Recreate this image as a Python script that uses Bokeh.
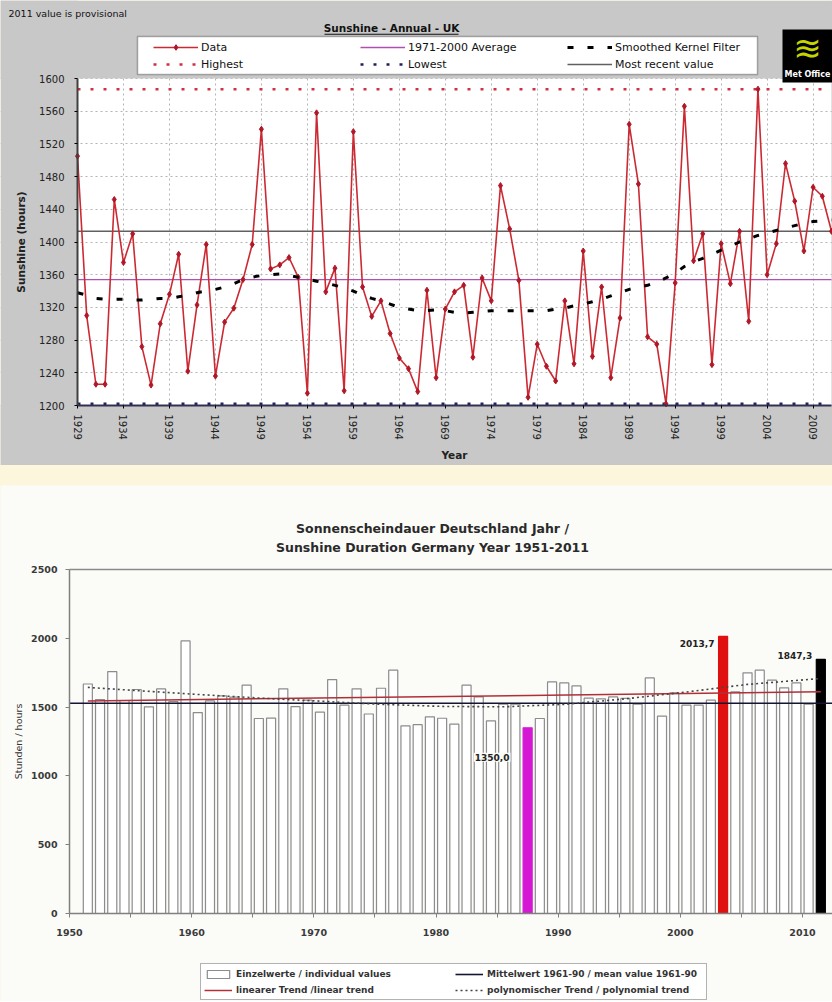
import math
from bokeh.plotting import figure
from bokeh.models import (Range1d, FixedTicker, Label, Legend, LegendItem,
                          ColumnDataSource, BoxAnnotation)
from bokeh.layouts import column
from bokeh.embed import file_html
from bokeh.resources import INLINE

# ---------------- UK data ----------------
uk_years = list(range(1929, 2012))
uk_sunshine = [1505, 1310, 1226, 1226, 1452, 1375, 1410, 1272, 1225, 1300,
               1336, 1385, 1242, 1323, 1397, 1236, 1302, 1319, 1354, 1397,
               1538, 1367, 1372, 1381, 1357, 1215, 1558, 1339, 1368, 1218,
               1535, 1345, 1309, 1328, 1288, 1258, 1245, 1217, 1341, 1234,
               1318, 1339, 1347, 1259, 1356, 1328, 1469, 1416, 1353, 1210,
               1275, 1248, 1230, 1328, 1251, 1389, 1260, 1345, 1234, 1307,
               1544, 1471, 1284, 1275, 1202, 1350, 1566, 1377, 1410, 1250,
               1398, 1349, 1413, 1303, 1587, 1360, 1398, 1496, 1450, 1389,
               1467, 1456, 1413]
uk_smoothed = [1338, 1335, 1331, 1330, 1330, 1330, 1329, 1329, 1330, 1331,
               1331, 1333, 1335, 1338, 1340, 1342, 1345, 1349, 1354, 1357,
               1359, 1360, 1361, 1359, 1357, 1355, 1352, 1350, 1347, 1344,
               1340, 1335, 1331, 1328, 1324, 1320, 1318, 1316, 1316, 1317,
               1316, 1314, 1313, 1314, 1315, 1316, 1316, 1316, 1316, 1316,
               1316, 1316, 1318, 1319, 1322, 1324, 1327, 1330, 1334, 1338,
               1342, 1345, 1347, 1351, 1356, 1362, 1370, 1376, 1380, 1385,
               1390, 1395, 1400, 1404, 1408, 1411, 1414, 1417, 1420, 1423,
               1425, 1426, 1427]
uk_avg_1971_2000 = 1354
uk_highest = 1587
uk_lowest = 1202
uk_most_recent = 1413
uk_x_ticks = list(range(1929, 2010, 5))
uk_y_ticks = list(range(1200, 1601, 40))

# ---------------- Germany data ----------------
de_years = list(range(1951, 2012))
de_sunshine = [1668, 1555, 1758, 1548, 1628, 1502, 1632, 1540, 1981, 1460,
               1545, 1582, 1572, 1659, 1417, 1420, 1633, 1503, 1550, 1463,
               1700, 1514, 1633, 1450, 1637, 1768, 1364, 1372, 1429, 1419,
               1376, 1659, 1574, 1400, 1521, 1521, 1350.0, 1417, 1683, 1676,
               1654, 1565, 1560, 1575, 1563, 1521, 1712, 1434, 1603, 1514,
               1514, 1550, 2013.7, 1610, 1749, 1768, 1696, 1640, 1676, 1521,
               1847.3]
de_mean_1961_90 = 1528
de_linear_years = [1951, 2011]
de_linear_vals = [1545, 1611]
de_poly_years = [1951, 1955, 1960, 1965, 1970, 1975, 1980, 1985, 1990, 1995, 2000, 2005, 2011]
de_poly_vals = [1643, 1620, 1592, 1566, 1543, 1520, 1505, 1502, 1520, 1560, 1610, 1665, 1708]
de_x_ticks = list(range(1950, 2011, 10))
de_x_minor = list(range(1955, 2010, 10))
de_y_ticks = list(range(0, 2501, 500))
de_highlight = {1987: "#d418d4", 2003: "#e01010", 2011: "#000000"}
de_labels = {2003: "2013,7", 2011: "1847,3", 1987: "1350,0"}

FONT = "DejaVu Sans"
CREAM = "#fcf6dc"
GRAY = "#c8c8c8"
WHITE2 = "#fbfbf8"
W = 832

# ======================================================================
# TOP CHART: UK  (frame covers the whole canvas; axes at fixed locations)
# ======================================================================
T_H = 465
ux0, ux1 = uk_years[0], uk_years[-1]
uy0, uy1 = uk_y_ticks[0], uk_y_ticks[-1]
PX_X0, PX_X1 = 77, 831      # pixel x of first / last year
PX_YT, PX_YB = 78, 405      # pixel y of top / bottom tick value
ppy = (PX_X1 - PX_X0) / (ux1 - ux0)
ppu = (PX_YB - PX_YT) / (uy1 - uy0)
tx_start = ux0 - PX_X0 / ppy
tx_end = ux0 + (W - PX_X0) / ppy
ty_end = uy1 + PX_YT / ppu
ty_start = uy0 - (T_H - PX_YB) / ppu


def tx(px):
    return tx_start + px / ppy


def ty(py):
    return ty_end - py / ppu


p1 = figure(width=W, height=T_H, output_backend="svg", toolbar_location=None, title=None,
            x_range=Range1d(tx_start, tx_end), y_range=Range1d(ty_start, ty_end),
            min_border_left=0, min_border_right=0, min_border_top=0, min_border_bottom=0)
p1.border_fill_color = GRAY
p1.background_fill_color = "white"
p1.outline_line_color = None

p1.xaxis.ticker = FixedTicker(ticks=uk_x_ticks)
p1.yaxis.ticker = FixedTicker(ticks=uk_y_ticks)
p1.xaxis.fixed_location = uy0
p1.yaxis.fixed_location = ux0
p1.xaxis.bounds = (ux0, ux1)
p1.yaxis.bounds = (uy0, uy1)
p1.xaxis.major_label_orientation = -math.pi / 2
p1.xaxis.axis_label = "Year"
p1.yaxis.axis_label = "Sunshine (hours)"
for ax in (p1.xaxis[0], p1.yaxis[0]):
    ax.major_label_text_font = FONT
    ax.major_label_text_font_size = "10px"
    ax.major_label_text_color = "#222222"
    ax.axis_label_text_font = FONT
    ax.axis_label_text_font_size = "10.5px"
    ax.axis_label_text_font_style = "bold"
    ax.axis_label_text_color = "#222222"
    ax.minor_tick_line_color = None
    ax.major_tick_out = 3
    ax.major_tick_in = 0
p1.yaxis.axis_line_color = "#404040"
p1.yaxis.axis_line_width = 2
p1.yaxis.major_label_standoff = 10
p1.yaxis.axis_label_standoff = 9
p1.xaxis.axis_line_color = "#303050"
p1.xaxis.axis_line_width = 2
p1.xaxis.major_label_standoff = 6
p1.xaxis.axis_label_standoff = 6
p1.grid.grid_line_color = "#b4b4b4"
p1.grid.grid_line_dash = "2 3"
p1.grid.grid_line_width = 1

# grey surround (covers grid lines outside the plot area)
for l, r, b, t in [(tx_start, ux0, ty_start, ty_end), (ux1, tx_end, ty_start, ty_end),
                   (tx_start, tx_end, ty_start, uy0), (tx_start, tx_end, uy1, ty_end)]:
    p1.add_layout(BoxAnnotation(left=l, right=r, bottom=b, top=t, fill_color=GRAY, fill_alpha=1,
                                line_color=None, level="underlay"))

ST_DATA = dict(line_color="#cc2a33", line_width=1.6)
ST_PTS = dict(marker="diamond", size=6, fill_color="#b01828", line_color="#b01828")
ST_HIGH = dict(line_color="#d03040", line_width=2.5, line_dash="3 10")
ST_LOW = dict(line_color="#202060", line_width=2.5, line_dash="3 10")
ST_AVG = dict(line_color="#b050b0", line_width=1.3)
ST_RECENT = dict(line_color="#606060", line_width=1.5)
ST_SMOOTH = dict(line_color="black", line_width=3, line_dash="6 14")

x_ends = [ux0, ux1]
src1 = ColumnDataSource(dict(year=uk_years, sun=uk_sunshine, smooth=uk_smoothed))
r_high = p1.line(x=x_ends, y=[uk_highest] * 2, **ST_HIGH)
r_low = p1.line(x=x_ends, y=[uk_lowest] * 2, **ST_LOW)
r_avg = p1.line(x=x_ends, y=[uk_avg_1971_2000] * 2, **ST_AVG)
r_recent = p1.line(x=x_ends, y=[uk_most_recent] * 2, **ST_RECENT)
r_data = p1.line("year", "sun", source=src1, **ST_DATA)
r_pts = p1.scatter("year", "sun", source=src1, **ST_PTS)
r_smooth = p1.line("year", "smooth", source=src1, **ST_SMOOTH)

# legend frame (white box with black border) and legend items on top of it
p1.add_layout(BoxAnnotation(left=tx(137), right=tx(757), top=ty(36), bottom=ty(74),
                            fill_color="white", fill_alpha=1, line_color="black", line_width=1.5))
leg1 = Legend(items=[
    LegendItem(label="Data", renderers=[r_data, r_pts]),
    LegendItem(label="Highest", renderers=[r_high]),
    LegendItem(label="1971-2000 Average", renderers=[r_avg]),
    LegendItem(label="Lowest", renderers=[r_low]),
    LegendItem(label="Smoothed Kernel Filter", renderers=[r_smooth]),
    LegendItem(label="Most recent value", renderers=[r_recent]),
], location=(153, T_H - 71), orientation="vertical", ncols=3)
leg1.margin = 0
leg1.padding = 0
leg1.spacing = 3
leg1.glyph_width = 45
leg1.glyph_height = 14
leg1.label_height = 14
leg1.label_width = 156
leg1.label_standoff = 3
leg1.label_text_font = FONT
leg1.label_text_font_size = "11px"
leg1.label_text_color = "#111111"
leg1.border_line_color = None
leg1.background_fill_alpha = 0
p1.add_layout(leg1, "center")


def lab1(px, py, text, **kw):
    p1.add_layout(Label(x=tx(px), y=ty(py), text=text, text_font=FONT, **kw))


lab1(8, 13, "2011 value is provisional", text_font_size="9.5px", text_color="#111111",
     text_baseline="middle")
lab1(391, 27, "Sunshine - Annual - UK", text_font_size="10.5px", text_font_style="bold",
     text_color="#111111", text_align="center", text_baseline="middle")
# underline of the title
p1.add_layout(BoxAnnotation(left=tx(324), right=tx(458), top=ty(33.2), bottom=ty(34.2),
                            fill_color="#111111", fill_alpha=1, line_color=None))
# Met Office logo block
p1.add_layout(BoxAnnotation(left=tx(782), right=tx(832), top=ty(29), bottom=ty(82),
                            fill_color="black", fill_alpha=1, line_color=None))
lab1(807, 47, "\u224b", text_font_size="34px", text_color="#c4d400", text_align="center",
     text_baseline="middle")
lab1(807, 74, "Met Office", text_font_size="8px", text_font_style="bold", text_color="white",
     text_align="center", text_baseline="middle")

# ======================================================================
# BOTTOM CHART: Germany
# ======================================================================
B_H = 516
dx0 = de_x_ticks[0]
dy0, dy1 = de_y_ticks[0], de_y_ticks[-1]
PB_X0, PB_X1 = 69, 802          # pixel x of first / last x tick
PB_YT, PB_YB = 84, 428          # pixel y of top / bottom y tick (figure local)
ppy2 = (PB_X1 - PB_X0) / (de_x_ticks[-1] - dx0)
ppu2 = (PB_YB - PB_YT) / (dy1 - dy0)
bx_start = dx0 - PB_X0 / ppy2
bx_end = dx0 + (W - PB_X0) / ppy2
by_end = dy1 + PB_YT / ppu2
by_start = dy0 - (B_H - PB_YB) / ppu2


def bx(px):
    return bx_start + px / ppy2


def by(py):
    return by_end - py / ppu2


p2 = figure(width=W, height=B_H, output_backend="svg", toolbar_location=None, title=None,
            x_range=Range1d(bx_start, bx_end), y_range=Range1d(by_start, by_end),
            min_border_left=0, min_border_right=0, min_border_top=0, min_border_bottom=0)
p2.border_fill_color = WHITE2
p2.background_fill_color = WHITE2
p2.outline_line_color = None
p2.grid.grid_line_color = None

p2.xaxis.ticker = FixedTicker(ticks=de_x_ticks, minor_ticks=de_x_minor)
p2.yaxis.ticker = FixedTicker(ticks=de_y_ticks)
p2.xaxis.fixed_location = dy0
p2.yaxis.fixed_location = dx0
p2.xaxis.bounds = (dx0, bx_end)
p2.yaxis.bounds = (dy0, dy1)
p2.yaxis.axis_label = "Stunden / hours"
for ax in (p2.xaxis[0], p2.yaxis[0]):
    ax.major_label_text_font = FONT
    ax.major_label_text_font_size = "9.5px"
    ax.major_label_text_font_style = "bold"
    ax.major_label_text_color = "#3a3a3a"
    ax.axis_line_color = "#808080"
    ax.axis_line_width = 1.5
    ax.major_tick_line_color = "#808080"
    ax.major_tick_out = 4
    ax.major_tick_in = 0
    ax.axis_label_text_font = FONT
    ax.axis_label_text_font_size = "9.5px"
    ax.axis_label_text_font_style = "normal"
    ax.axis_label_text_color = "#333333"
p2.yaxis.major_label_standoff = 8
p2.yaxis.axis_label_standoff = 4
p2.yaxis.minor_tick_line_color = None
p2.xaxis.minor_tick_line_color = "#808080"
p2.xaxis.minor_tick_out = 4
p2.xaxis.minor_tick_in = 0
p2.xaxis.major_label_standoff = 11

# top border line of the plot area (at the top tick value)
p2.line(x=[dx0, bx_end], y=[dy1] * 2, line_color="#8a8a8a", line_width=1.5)

ST_MEAN = dict(line_color="#141433", line_width=1.6)
ST_LIN = dict(line_color="#b03038", line_width=1.5)
ST_POLY = dict(line_color="#444444", line_width=1.6, line_dash="2 3")

de_x = [y + 0.5 for y in de_years]
src2 = ColumnDataSource(dict(
    x=de_x, top=de_sunshine,
    fill=[de_highlight.get(y, "white") for y in de_years],
    line=[de_highlight.get(y, "#8c8c8c") for y in de_years]))
r_bars = p2.vbar(x="x", top="top", bottom=0, width=0.74, source=src2,
                 fill_color="fill", line_color="line", line_width=1.2)
r_mean = p2.line(x=[dx0, bx_end], y=[de_mean_1961_90] * 2, **ST_MEAN)
r_lin = p2.line(x=[y + 0.5 for y in de_linear_years], y=de_linear_vals, **ST_LIN)
r_poly = p2.line(x=[y + 0.5 for y in de_poly_years], y=de_poly_vals, **ST_POLY)

LBL = dict(text_font=FONT, text_font_size="9px", text_font_style="bold",
           text_color="#222222", text_align="right", text_baseline="middle")
p2.add_layout(Label(x=2003.5 - 0.7, y=de_sunshine[de_years.index(2003)] - 50, text=de_labels[2003], **LBL))
p2.add_layout(Label(x=2011.5 - 0.7, y=de_sunshine[de_years.index(2011)] + 30, text=de_labels[2011], **LBL))
p2.add_layout(Label(x=1987.5 - 1.4, y=de_sunshine[de_years.index(1987)] - 214, text=de_labels[1987],
                    background_fill_color=WHITE2, padding=1, **LBL))


def lab2(px, py, text, **kw):
    p2.add_layout(Label(x=bx(px), y=by(py), text=text, text_font=FONT, **kw))


lab2(432, 43, "Sonnenscheindauer Deutschland Jahr /", text_font_size="12.5px",
     text_font_style="bold", text_color="#2a2a2a", text_align="center", text_baseline="middle")
lab2(432, 62, "Sunshine Duration Germany Year 1951-2011", text_font_size="12.5px",
     text_font_style="bold", text_color="#2a2a2a", text_align="center", text_baseline="middle")

leg2 = Legend(items=[
    LegendItem(label="Einzelwerte / individual values", renderers=[r_bars]),
    LegendItem(label="linearer Trend /linear trend", renderers=[r_lin]),
    LegendItem(label="Mittelwert 1961-90 / mean value 1961-90", renderers=[r_mean]),
    LegendItem(label="polynomischer Trend / polynomial trend", renderers=[r_poly]),
], location=(200, 1), orientation="vertical", ncols=2)
leg2.margin = 0
leg2.padding = 3
leg2.spacing = 3
leg2.glyph_width = 28
leg2.glyph_height = 10
leg2.label_height = 13
leg2.label_width = 216
leg2.label_standoff = 4
leg2.label_text_font = FONT
leg2.label_text_font_size = "9px"
leg2.label_text_font_style = "bold"
leg2.label_text_color = "#333333"
leg2.border_line_color = "#666666"
leg2.border_line_width = 1.2
leg2.background_fill_color = "white"
leg2.background_fill_alpha = 1
p2.add_layout(leg2, "center")

p = column(p1, p2, spacing=20, styles={"background-color": CREAM})

open("out.html", "w").write(file_html(p, INLINE))
